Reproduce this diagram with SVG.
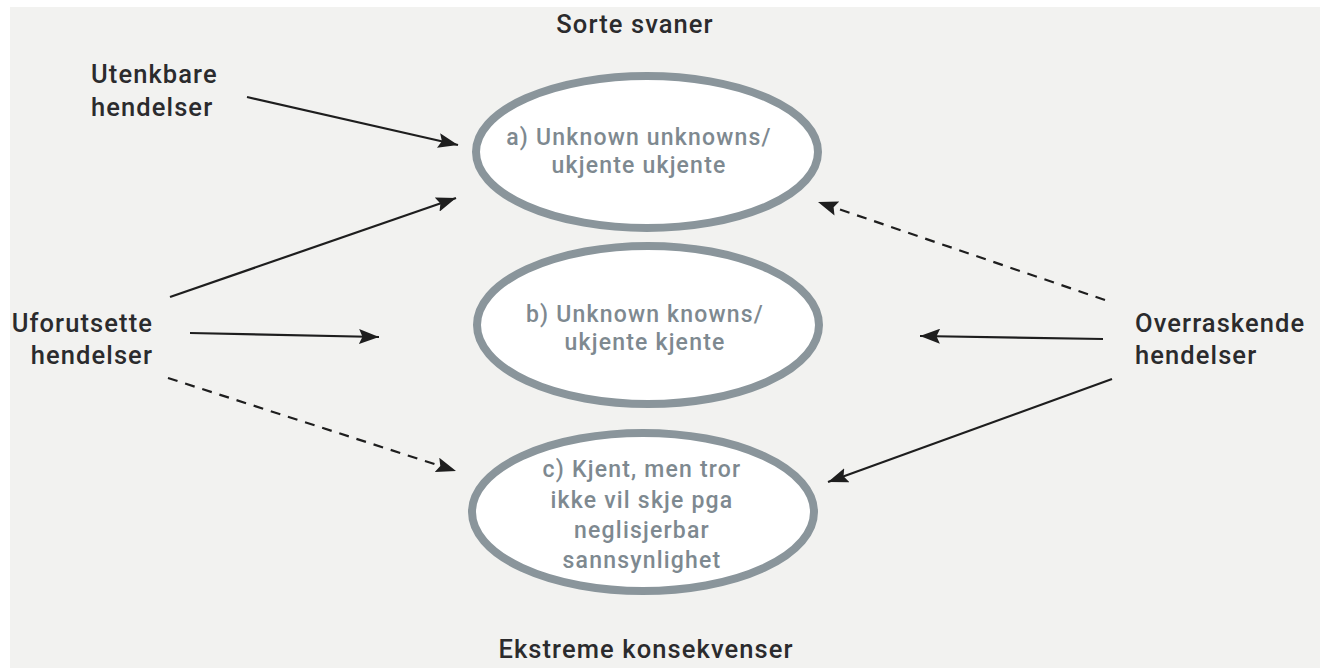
<svg xmlns="http://www.w3.org/2000/svg" width="1322" height="668" viewBox="0 0 1322 668">
  <style>
    .bubble { fill: #ffffff; stroke: #8a959b; stroke-width: 8; }
    .btext { font-family: Roboto, "Liberation Sans", sans-serif; font-weight: 500; font-size: 23px; letter-spacing: 1.2px; fill: #7e8990; text-anchor: middle; }
    .label { font-family: Roboto, "Liberation Sans", sans-serif; font-weight: 500; font-size: 25.5px; letter-spacing: 1.1px; fill: #2b2b2d; }
    .edge { stroke: #1e1e1e; stroke-width: 2.2; fill: none; marker-end: url(#head); }
    .dash { stroke-dasharray: 10 8; }
  </style>
  <defs>
    <marker id="head" markerUnits="userSpaceOnUse" markerWidth="21" markerHeight="15" refX="20" refY="7.5" orient="auto">
      <path d="M0,0 L20,7.5 L0,15 L3.5,7.5 Z" fill="#1e1e1e"/>
    </marker>
  </defs>

  <!-- page background -->
  <rect x="0" y="0" width="1322" height="668" fill="#ffffff"/>
  <rect x="10" y="7" width="1310" height="661" fill="#f2f2f0"/>

  <!-- axis captions -->
  <text class="label" x="635" y="33" text-anchor="middle">Sorte svaner</text>
  <text class="label" x="646" y="658" text-anchor="middle">Ekstreme konsekvenser</text>

  <!-- sources -->
  <g id="utenkbare">
    <text class="label" x="91" y="83">Utenkbare</text>
    <text class="label" x="91" y="116">hendelser</text>
  </g>
  <g id="uforutsette">
    <text class="label" x="153" y="332" text-anchor="end">Uforutsette</text>
    <text class="label" x="153" y="364" text-anchor="end">hendelser</text>
  </g>
  <g id="overraskende">
    <text class="label" x="1135" y="332">Overraskende</text>
    <text class="label" x="1135" y="364">hendelser</text>
  </g>

  <!-- categories -->
  <g id="cat-a">
    <ellipse class="bubble" cx="647" cy="152" rx="171" ry="76"/>
    <text class="btext" x="639" y="145">a) Unknown unknowns/</text>
    <text class="btext" x="639" y="173">ukjente ukjente</text>
  </g>
  <g id="cat-b">
    <ellipse class="bubble" cx="648" cy="325" rx="171" ry="79"/>
    <text class="btext" x="645" y="322">b) Unknown knowns/</text>
    <text class="btext" x="645" y="350">ukjente kjente</text>
  </g>
  <g id="cat-c">
    <ellipse class="bubble" cx="643" cy="512" rx="171" ry="79"/>
    <text class="btext" x="642" y="477">c) Kjent, men tror</text>
    <text class="btext" x="642" y="508">ikke vil skje pga</text>
    <text class="btext" x="642" y="538">neglisjerbar</text>
    <text class="btext" x="642" y="568">sannsynlighet</text>
  </g>

  <!-- connectors -->
  <g id="connectors">
    <line class="edge" x1="247" y1="97" x2="458" y2="145"/>
    <line class="edge" x1="170" y1="297" x2="456" y2="198"/>
    <line class="edge" x1="190" y1="333" x2="379" y2="337"/>
    <line class="edge dash" x1="168" y1="378" x2="456" y2="471"/>
    <line class="edge dash" x1="1105" y1="300" x2="818" y2="202"/>
    <line class="edge" x1="1103" y1="339" x2="920" y2="336"/>
    <line class="edge" x1="1112" y1="379" x2="828" y2="482"/>
  </g>
</svg>
